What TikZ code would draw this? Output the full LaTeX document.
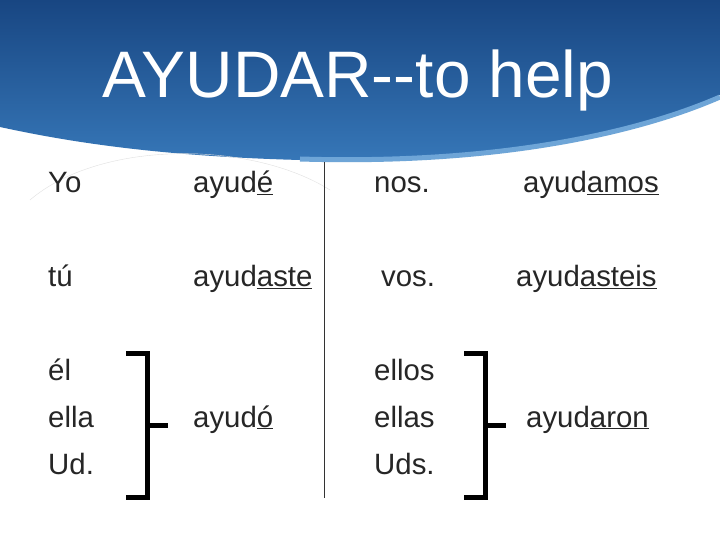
\documentclass[tikz,border=0pt]{standalone}
\usepackage{fontspec}
\setmainfont{Liberation Sans}
\begin{document}
\begin{tikzpicture}[x=1bp,y=-1bp,
  txt/.style={anchor=base west,inner sep=0pt,text=black!85,font=\fontsize{29.5}{33}\selectfont},
  brk/.style={line width=5bp}]
\useasboundingbox (0,0) rectangle (720,540);
\fill[white] (0,0) rectangle (720,540);
\shade[top color={rgb,255:red,24;green,70;blue,130},bottom color={rgb,255:red,55;green,120;blue,185}]
  (0,0) -- (720,0) -- (720,95) .. controls (640,130) and (500,165) .. (300,160) .. controls (150,156) and (60,140) .. (0,127) -- cycle;
\draw[line width=5bp,color={rgb,255:red,110;green,165;blue,215}] (720,97) .. controls (640,132) and (500,165) .. (300,159);
\draw[black!12] (30,200) .. controls (100,140) and (250,140) .. (330,190);
\node[anchor=base,inner sep=0pt,text=white,font=\fontsize{66}{70}\selectfont] (t) at (358,98) {AYUDAR-{}-to help};
\node[txt] (a1) at (48,193) {Yo};
\node[txt] (a2) at (193,193) {ayud\underline{é}};
\node[txt] (a3) at (374,193) {nos.};
\node[txt] (a4) at (523,193) {ayud\underline{amos}};
\node[txt] (b1) at (48,287) {tú};
\node[txt] (b2) at (193,287) {ayud\underline{aste}};
\node[txt] (b3) at (381,287) {vos.};
\node[txt] (b4) at (516,287) {ayud\underline{asteis}};
\node[txt] (c1) at (48,380) {él};
\node[txt] (c2) at (48,427) {ella};
\node[txt] (c3) at (48,474) {Ud.};
\node[txt] (c4) at (193,427) {ayud\underline{ó}};
\node[txt] (d1) at (374,380) {ellos};
\node[txt] (d2) at (374,427) {ellas};
\node[txt] (d3) at (374,474) {Uds.};
\node[txt] (d4) at (526,427) {ayud\underline{aron}};
\coordinate (v1) at (324,162); \coordinate (v2) at (324,498);
\draw[black!80,line width=0.8bp] (v1) -- (v2);
\draw[brk] (126,353) -- (147,353) -- (147,497) -- (126,497);
\draw[brk] (147,425) -- (168,425);
\draw[brk] (464,353) -- (485,353) -- (485,497) -- (464,497);
\draw[brk] (485,425) -- (506,425);
\end{tikzpicture}
\end{document}
